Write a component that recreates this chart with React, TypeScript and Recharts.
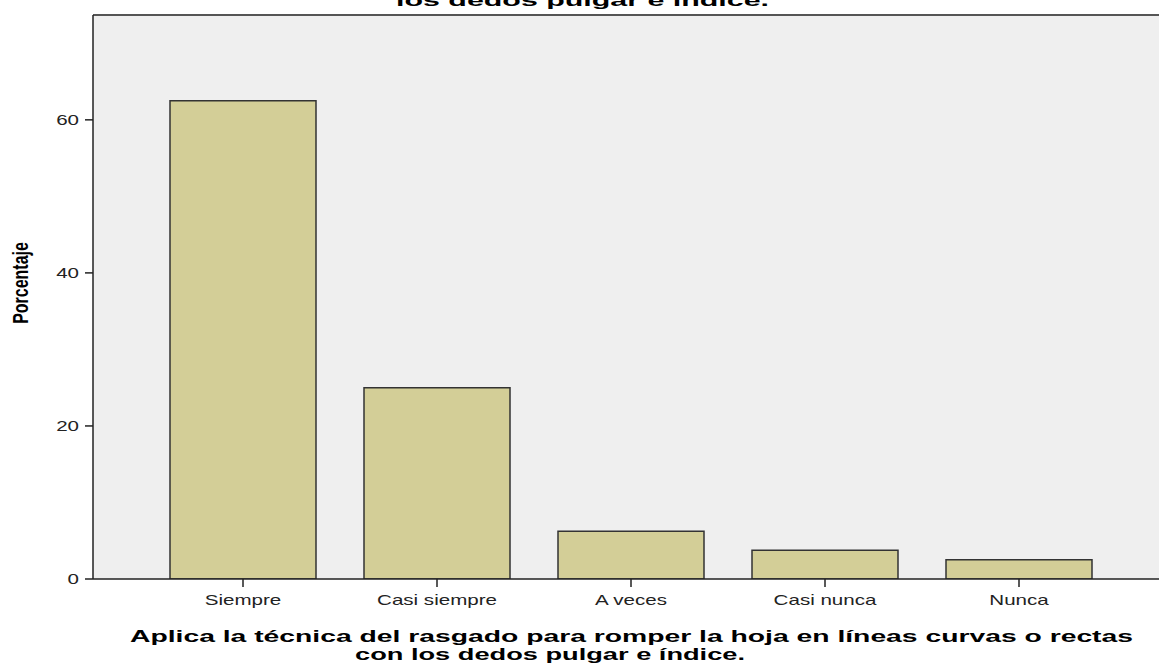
import { BarChart, Bar, XAxis, YAxis, CartesianGrid, ReferenceLine } from "recharts";

const categories = ["Siempre", "Casi siempre", "A veces", "Casi nunca", "Nunca"];
const percentages = [62.5, 25, 6.25, 3.75, 2.5];
const yTicks = [0, 20, 40, 60];
const Y_MAX = 73.7;

const titleTail = "los dedos pulgar e índice.";
const xTitleLines = [
  "Aplica la técnica del rasgado para romper la hoja en líneas curvas o rectas",
  "con los dedos pulgar e índice.",
];
const yTitle = "Porcentaje";

const data = categories.map((c, i) => ({ name: c, value: percentages[i] }));

const W = 1159;
const H = 668;
const FONT = "Liberation Sans, Arial, sans-serif";
// the source image is stretched sideways, so text is widened too
const STRETCH = 1.37;

function XTick(props: any) {
  const { x, y, payload } = props;
  return (
    <text
      transform={`translate(${x},${y + 12}) scale(${STRETCH},1)`}
      textAnchor="middle"
      fontFamily={FONT}
      fontSize={15}
      fill="#222"
    >
      {payload.value}
    </text>
  );
}

function YTick(props: any) {
  const { x, y, payload } = props;
  return (
    <text
      transform={`translate(${x},${y + 5}) scale(${STRETCH},1)`}
      textAnchor="end"
      fontFamily={FONT}
      fontSize={15}
      fill="#222"
    >
      {payload.value}
    </text>
  );
}

export default function App() {
  return (
    <div style={{ position: "absolute", left: 0, top: 0, width: W, height: H, background: "#fff" }}>
      <BarChart
        width={W}
        height={H}
        data={data}
        margin={{ top: 15, right: 0, bottom: 59, left: 0 }}
        barCategoryGap={24}
      >
        <CartesianGrid horizontal={false} vertical={false} fill="#efefef" />
        <XAxis
          dataKey="name"
          height={30}
          padding={{ left: 53, right: 43 }}
          tick={<XTick />}
          tickSize={8}
          tickMargin={6}
          stroke="#222"
          strokeWidth={1.5}
          interval={0}
        />
        <YAxis
          domain={[0, Y_MAX]}
          ticks={yTicks}
          width={93}
          tick={<YTick />}
          tickSize={8}
          tickMargin={6}
          stroke="#222"
          strokeWidth={1.5}
          allowDataOverflow
        />
        <ReferenceLine y={Y_MAX} stroke="#555" strokeWidth={2} />
        <Bar
          dataKey="value"
          fill="#d3ce97"
          stroke="#333"
          strokeWidth={1.5}
          isAnimationActive={false}
        />
      </BarChart>
      <svg
        width={W}
        height={H}
        style={{ position: "absolute", left: 0, top: 0, pointerEvents: "none" }}
      >
        <text
          x={396}
          y={6}
          fontFamily={FONT}
          fontWeight="bold"
          fontSize={17}
          textLength={373}
          lengthAdjust="spacingAndGlyphs"
          fill="#000"
        >
          {titleTail}
        </text>
        <text
          x={130}
          y={642}
          fontFamily={FONT}
          fontWeight="bold"
          fontSize={17}
          textLength={1003}
          lengthAdjust="spacingAndGlyphs"
          fill="#000"
        >
          {xTitleLines[0]}
        </text>
        <text
          x={355}
          y={660}
          fontFamily={FONT}
          fontWeight="bold"
          fontSize={17}
          textLength={390}
          lengthAdjust="spacingAndGlyphs"
          fill="#000"
        >
          {xTitleLines[1]}
        </text>
        <text
          transform={`translate(28,283) scale(${STRETCH},1) rotate(-90)`}
          textAnchor="middle"
          fontFamily={FONT}
          fontWeight="bold"
          fontSize={16}
          fill="#000"
        >
          {yTitle}
        </text>
      </svg>
    </div>
  );
}
